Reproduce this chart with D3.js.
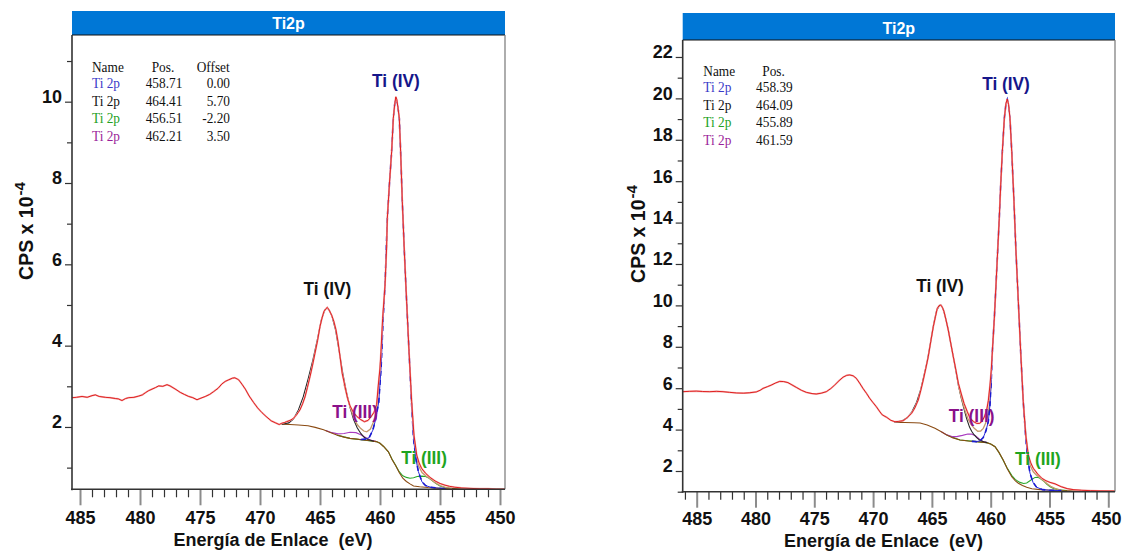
<!DOCTYPE html>
<html>
<head>
<meta charset="utf-8">
<script src="https://cdn.jsdelivr.net/npm/d3@7"></script>
<style>
  html, body { margin: 0; padding: 0; background: #fff; }
  svg { display: block; }
</style>
</head>
<body>
<svg id="chart" width="1122" height="554"></svg>
<script>
// ---------------- Data (binding energy in eV, intensity in CPS x 10^-4) ----------------

const panelTitle = "Ti2p";
const xAxisTitle = "Energía de Enlace  (eV)";
const yAxisTitle = "CPS x 10";
const yAxisExp = "-4";

const xMajorTicks = [485, 480, 475, 470, 465, 460, 455, 450];
const xMinorTicks = [486, 484, 483, 482, 481, 479, 478, 477, 476, 474, 473, 472, 471, 469, 468, 467, 466,
                     464, 463, 462, 461, 459, 458, 457, 456, 454, 453, 452, 451];
const yMajorA = [2, 4, 6, 8, 10];
const yMinorA = [1, 3, 5, 7, 9, 11];
const yMajorB = [2, 4, 6, 8, 10, 12, 14, 16, 18, 20, 22];
const yMinorB = [1, 3, 5, 7, 9, 11, 13, 15, 17, 19, 21];

const legendNames = ["Ti 2p", "Ti 2p", "Ti 2p", "Ti 2p"];
const legendPosA = ["458.71", "464.41", "456.51", "462.21"];
const legendOffsetA = ["0.00", "5.70", "-2.20", "3.50"];
const legendPosB = ["458.39", "464.09", "455.89", "461.59"];

const peakLabelText = ["Ti (IV)", "Ti (IV)", "Ti (III)", "Ti (III)"];
const peakLabelAtA = [[458.67, 10.36], [464.38, 5.25], [462.08, 2.22], [456.33, 1.09]];
const peakLabelAtB = [[458.70, 20.41], [464.31, 10.66], [461.62, 4.38], [455.98, 2.29]];

// Panel A: measured spectrum
const spectrumA = [
  [485.67,2.72],[485.3,2.73],[484.83,2.75],[484.4,2.73],[484.0,2.77],[483.72,2.79],[483.4,2.75],
  [482.89,2.73],[482.5,2.72],[482.06,2.70],[481.8,2.69],[481.5,2.65],[481.2,2.70],[480.94,2.72],
  [480.5,2.73],[480.11,2.76],[479.8,2.79],[479.56,2.84],[479.3,2.89],[479.0,2.93],[478.7,2.97],
  [478.44,3.01],[478.1,3.00],[477.75,3.04],[477.5,3.01],[477.33,2.98],[477.0,2.92],[476.64,2.85],
  [476.3,2.80],[475.94,2.75],[475.6,2.72],[475.25,2.67],[475.0,2.70],[474.56,2.75],[474.2,2.80],
  [473.86,2.87],[473.5,2.95],[473.17,3.06],[472.9,3.12],[472.61,3.16],[472.3,3.20],[472.11,3.21],
  [471.9,3.18],[471.78,3.16],[471.5,3.05],[471.22,2.93],[470.9,2.76],[470.53,2.60],[470.2,2.47],
  [469.83,2.35],[469.5,2.26],[469.06,2.15],[468.7,2.10],[468.4,2.06],[468.19,2.09],[467.95,2.11],
  [467.78,2.13],[467.5,2.16],[467.22,2.21],[466.95,2.30],[466.67,2.42],[466.45,2.57],[466.25,2.74],
  [466.05,2.97],[465.83,3.24],[465.62,3.52],[465.42,3.81],[465.2,4.13],[465.0,4.47],[464.83,4.68],
  [464.67,4.84],[464.5,4.91],[464.39,4.94],[464.25,4.88],[464.03,4.75],[463.85,4.60],[463.67,4.39],
  [463.5,4.10],[463.33,3.73],[463.15,3.32],[462.92,3.00],[462.7,2.70],[462.5,2.52],[462.22,2.36],
  [461.94,2.26],[461.6,2.18],[461.3,2.13],[461.0,2.16],[460.75,2.25],[460.5,2.36],[460.28,2.55],
  [460.14,3.03],[460.0,3.45],[459.92,3.85],[459.78,4.67],[459.58,5.49],[459.45,6.40],[459.39,7.13],
  [459.22,7.95],[459.03,8.77],[458.89,9.59],[458.78,9.92],[458.68,10.12],[458.6,10.05],[458.5,9.85],
  [458.39,9.59],[458.28,8.77],[458.14,7.54],[457.97,6.31],[457.78,5.08],[457.58,3.85],[457.36,2.62],
  [457.17,1.80],[456.94,1.31],[456.75,1.12],[456.53,0.98],[456.2,0.86],[455.83,0.76],[455.4,0.67],
  [455.0,0.61],[454.6,0.57],[454.2,0.54],[453.8,0.52],[453.2,0.50],[452.5,0.49],[451.67,0.48],
  [451.0,0.48],[450.3,0.47],[449.6,0.47]
];
const backgroundA = [
  [468.2,2.07],[467.5,2.06],[466.8,2.05],[466.0,2.03],[465.4,1.99],[464.7,1.93],[464.2,1.87],
  [463.6,1.80],[463.0,1.75],[462.5,1.72],[461.9,1.70],[461.4,1.68],[460.8,1.66],[460.3,1.64],
  [460.0,1.60],[459.7,1.52],[459.3,1.39],[459.0,1.20],[458.7,1.05],[458.4,0.88],[458.1,0.74],
  [457.8,0.66],[457.5,0.60],[457.2,0.55],[456.7,0.53],[456.0,0.51],[455.0,0.49],[453.5,0.48],
  [452.0,0.48],[450.0,0.47],[449.6,0.47]
];
const tiIV32A = [
  [461.6,1.69],[461.2,1.70],[460.9,1.74],[460.6,1.92],[460.35,2.20],[460.1,2.62],[459.9,3.50],
  [459.75,4.60],[459.58,5.49],[459.39,7.13],[459.22,7.95],[459.03,8.77],[458.89,9.59],[458.78,9.92],
  [458.68,10.10],[458.52,9.90],[458.39,9.59],[458.28,8.77],[458.14,7.54],[457.97,6.31],[457.78,5.08],
  [457.58,3.85],[457.38,2.62],[457.2,1.70],[457.0,1.20],[456.8,0.90],[456.5,0.65],[456.2,0.56],
  [455.8,0.52],[455.3,0.50],[454.5,0.48]
];
const tiIV12A = [
  [468.2,2.07],[467.6,2.10],[467.2,2.20],[466.8,2.42],[466.4,2.74],[466.0,3.17],[465.6,3.64],
  [465.2,4.18],[464.9,4.62],[464.6,4.88],[464.4,4.93],[464.2,4.86],[464.0,4.72],[463.7,4.38],
  [463.4,3.86],[463.1,3.32],[462.8,2.86],[462.5,2.48],[462.2,2.18],[461.9,1.98],[461.6,1.84],
  [461.3,1.74],[461.0,1.69],[460.5,1.65]
];
const tiIII32A = [
  [463.6,1.80],[462.5,1.72],[461.4,1.68],[460.3,1.64],
  [460.0,1.60],[459.7,1.52],[459.3,1.39],[459.0,1.21],[458.7,1.06],[458.4,0.90],[458.1,0.80],
  [457.8,0.76],[457.5,0.74],[457.2,0.75],[456.9,0.78],[456.5,0.79],[456.2,0.78],[455.9,0.74],
  [455.6,0.67],[455.3,0.60],[455.0,0.55],[454.6,0.51],[454.0,0.49],[453.0,0.48]
];
const tiIII12A = [
  [464.5,1.91],[464.0,1.86],[463.5,1.83],[463.0,1.84],[462.5,1.87],[462.0,1.86],[461.6,1.81],
  [461.2,1.74],[460.8,1.68],[460.3,1.64]
];
const envelopeA = [
  [463.0,3.05],[462.8,2.82],[462.5,2.50],[462.2,2.24],[461.9,2.06],[461.6,1.96],[461.35,1.90],
  [461.1,1.88],[460.8,1.95],[460.5,2.15],[460.25,2.52],[460.05,3.20],[459.9,3.80]
];
const envelopeTailA = [
  [457.4,2.75],[457.2,1.85],[457.0,1.32],[456.8,1.06],[456.5,0.88],[456.2,0.80],[455.8,0.72],
  [455.4,0.63],[455.0,0.56],[454.5,0.51],[454.0,0.49]
];

// Panel B: measured spectrum
const spectrumB = [
  [486.19,5.83],[485.6,5.85],[485.03,5.86],[484.5,5.84],[483.89,5.83],[483.3,5.85],[482.76,5.83],
  [482.2,5.80],[481.63,5.77],[481.0,5.76],[480.49,5.78],[479.93,5.82],[479.6,5.90],[479.36,5.99],
  [479.0,6.07],[478.66,6.15],[478.3,6.25],[477.94,6.33],[477.6,6.32],[477.24,6.27],[476.9,6.16],
  [476.53,6.04],[476.1,5.90],[475.68,5.80],[475.2,5.74],[474.83,5.72],[474.4,5.76],[473.98,5.83],
  [473.6,5.98],[473.27,6.15],[472.9,6.36],[472.56,6.53],[472.25,6.62],[471.99,6.64],[471.7,6.60],
  [471.43,6.48],[471.15,6.25],[470.86,5.99],[470.55,5.74],[470.29,5.51],[470.0,5.30],[469.73,5.11],
  [469.41,4.85],[469.22,4.71],[468.84,4.59],[468.5,4.45],[468.14,4.38],[467.8,4.40],[467.43,4.43],
  [467.1,4.58],[466.72,4.79],[466.45,5.05],[466.16,5.43],[465.95,5.88],[465.73,6.40],[465.52,6.95],
  [465.31,7.52],[465.1,8.25],[464.88,8.97],[464.7,9.45],[464.54,9.86],[464.4,9.98],[464.25,10.02],
  [464.1,9.90],[463.97,9.70],[463.8,9.30],[463.61,8.81],[463.4,8.18],[463.18,7.52],[462.95,6.85],
  [462.75,6.24],[462.5,5.72],[462.27,5.27],[462.0,4.88],[461.76,4.55],[461.45,4.38],[461.19,4.30],
  [460.95,4.30],[460.77,4.38],[460.55,4.60],[460.34,4.95],[460.2,5.40],[460.06,6.15],[459.95,6.90],
  [459.86,7.76],[459.69,9.38],[459.55,10.99],[459.41,12.59],[459.27,14.21],[459.15,15.82],
  [459.01,17.43],[458.84,19.04],[458.7,19.75],[458.59,19.97],[458.48,19.70],[458.36,19.04],
  [458.21,17.43],[458.02,15.01],[457.85,12.59],[457.65,10.18],[457.45,7.76],[457.23,5.35],
  [457.02,3.74],[456.8,2.77],[456.6,2.40],[456.38,2.13],[456.0,1.85],[455.66,1.65],[455.3,1.53],
  [454.96,1.45],[454.53,1.38],[454.0,1.24],[453.5,1.15],[453.0,1.10],[452.3,1.07],[451.5,1.05],
  [450.7,1.04],[449.43,1.03]
];
const backgroundB = [
  [468.14,4.35],[467.3,4.34],[466.5,4.33],[466.0,4.32],[465.4,4.22],[464.74,4.06],[464.2,3.90],
  [463.74,3.74],[463.2,3.60],[462.61,3.50],[461.9,3.45],[461.19,3.42],[460.34,3.37],[460.0,3.30],
  [459.63,3.17],[459.3,2.90],[458.93,2.53],[458.6,2.12],[458.21,1.72],[457.9,1.52],[457.65,1.41],
  [457.3,1.30],[456.94,1.21],[456.5,1.14],[455.8,1.10],[455.24,1.08],[454.0,1.05],[452.0,1.04],
  [449.43,1.03]
];
const tiIV32B = [
  [461.6,3.43],[461.2,3.42],[460.9,3.46],[460.63,3.62],[460.4,3.95],[460.2,4.40],[460.06,5.20],
  [459.95,6.40],[459.86,7.76],[459.69,9.38],[459.55,10.99],[459.41,12.59],[459.27,14.21],
  [459.15,15.82],[459.01,17.43],[458.84,19.04],[458.7,19.75],[458.59,19.95],[458.48,19.70],
  [458.36,19.04],[458.21,17.43],[458.02,15.01],[457.85,12.59],[457.65,10.18],[457.45,7.76],
  [457.23,5.35],[457.02,3.60],[456.85,2.60],[456.66,1.90],[456.4,1.45],[456.1,1.22],[455.6,1.10],
  [455.0,1.07],[454.0,1.05]
];
const tiIV12B = [
  [468.2,4.35],[467.6,4.40],[467.1,4.57],[466.7,4.86],[466.3,5.32],[465.95,5.94],[465.7,6.55],
  [465.4,7.30],[465.1,8.25],[464.85,9.10],[464.6,9.75],[464.35,10.00],[464.2,10.00],[464.0,9.75],
  [463.8,9.30],[463.6,8.80],[463.4,8.18],[463.18,7.52],[462.95,6.80],[462.75,6.15],[462.5,5.52],
  [462.27,5.00],[462.04,4.52],[461.8,4.12],[461.62,3.92],[461.4,3.74],[461.19,3.61],[460.95,3.50],
  [460.6,3.41],[460.3,3.37]
];
const tiIII32B = [
  [463.74,3.74],[462.61,3.50],[461.19,3.42],[460.34,3.37],
  [460.0,3.30],[459.63,3.17],[459.3,2.90],[459.0,2.58],[458.6,2.14],[458.2,1.78],[457.9,1.58],
  [457.51,1.45],[457.2,1.40],[456.94,1.42],[456.6,1.55],[456.23,1.69],[456.0,1.70],[455.81,1.65],
  [455.5,1.52],[455.24,1.37],[454.95,1.24],[454.67,1.16],[454.2,1.09],[453.5,1.06]
];
const tiIII12B = [
  [464.2,3.90],[463.8,3.76],[463.3,3.66],[462.9,3.66],[462.4,3.72],[461.95,3.79],[461.6,3.78],
  [461.3,3.70],[461.0,3.56],[460.7,3.44],[460.3,3.37]
];
const envelopeB = [
  [462.75,6.15],[462.5,5.55],[462.2,4.95],[461.95,4.55],[461.7,4.28],[461.4,4.06],[461.1,3.92],
  [460.85,3.93],[460.63,4.06],[460.4,4.35],[460.2,4.80],[460.06,5.50],[459.95,6.40]
];
const envelopeTailB = [
  [457.23,5.30],[457.0,3.70],[456.8,2.68],[456.6,2.22],[456.38,1.96],[456.1,1.80],[455.8,1.67],
  [455.5,1.53],[455.2,1.38],[454.9,1.26],[454.5,1.15],[454.0,1.08]
];

// ---------------- Drawing ----------------

const svg = d3.select("#chart");
const SANS = "'Liberation Sans', Arial, Helvetica, sans-serif";
const SERIF = "'Liberation Serif', 'Times New Roman', serif";
const PAGE_W = 1122;

const panels = [
  {
    key: "A",
    box: { l: 72, r: 505, t: 35, b: 489.3 }, barTop: 11,
    xDomain: [485.667, 449.583], yDomain: [0.467, 11.64],
    yMajor: yMajorA, yMinor: yMinorA,
    spectrum: spectrumA, background: backgroundA,
    tiIV32: tiIV32A, tiIV12: tiIV12A, tiIII32: tiIII32A, tiIII12: tiIII12A,
    envelope: [envelopeA, envelopeTailA],
    labelsAt: peakLabelAtA,
    legendPos: legendPosA, legendOffset: legendOffsetA,
    legendX: { name: 92, posHead: 151.7, posRight: 182.3, offHead: 196.7, offRight: 230 },
    legendY: [71.5, 88, 105.5, 123, 140.5],
    yTitle: { x: 33, y: 231 }, xTitleX: 273, xLabelY: 524, xTitleY: 546
  },
  {
    key: "B",
    box: { l: 682.7, r: 1115, t: 40, b: 491.7 }, barTop: 13,
    xDomain: [486.19, 449.43], yDomain: [1.0, 22.82],
    yMajor: yMajorB, yMinor: yMinorB,
    spectrum: spectrumB, background: backgroundB,
    tiIV32: tiIV32B, tiIV12: tiIV12B, tiIII32: tiIII32B, tiIII12: tiIII12B,
    envelope: [envelopeB, envelopeTailB],
    labelsAt: peakLabelAtB,
    legendPos: legendPosB, legendOffset: null,
    legendX: { name: 703.3, posHead: 762.3, posRight: 792.7 },
    legendY: [76, 92, 109.5, 127, 144.5],
    yTitle: { x: 645, y: 234 }, xTitleX: 883.5, xLabelY: 525, xTitleY: 547
  }
];

const labelColors = ["#16168a", "#111111", "#8a118a", "#1fa51f"];
const legendColors = ["#3a3ac8", "#111111", "#22a022", "#9a1e9a"];

panels.forEach(p => {
  const { l, r, t, b } = p.box;
  const x = d3.scaleLinear().domain(p.xDomain).range([l, r]);
  const y = d3.scaleLinear().domain(p.yDomain).range([b, t]);
  const line = d3.line().x(d => x(d[0])).y(d => y(d[1]));

  const g = svg.append("g").attr("class", "panel-" + p.key);

  // title bar
  g.append("rect").attr("x", l).attr("y", p.barTop).attr("width", r - l).attr("height", t - p.barTop)
    .attr("fill", "#0077d6");
  g.append("text").attr("x", (l + r) / 2).attr("y", t - 6.5)
    .attr("text-anchor", "middle").attr("fill", "#fff")
    .attr("font-family", SANS).attr("font-weight", "bold").attr("font-size", 16)
    .text(panelTitle);

  // clip for the curves
  const clipId = "clip-" + p.key;
  g.append("clipPath").attr("id", clipId)
    .append("rect").attr("x", l).attr("y", t).attr("width", r - l).attr("height", b - t);
  const plot = g.append("g").attr("clip-path", `url(#${clipId})`);

  // fitted components, then the background drawn over their shared base
  plot.append("path").datum(p.tiIII32).attr("d", line)
    .attr("fill", "none").attr("stroke", "#2aa82a").attr("stroke-width", 1.1);
  plot.append("path").datum(p.tiIII12).attr("d", line)
    .attr("fill", "none").attr("stroke", "#a93cc0").attr("stroke-width", 1.1);
  plot.append("path").datum(p.background).attr("d", line)
    .attr("fill", "none").attr("stroke", "#8a4a12").attr("stroke-width", 1.1);
  plot.append("path").datum(p.tiIV12).attr("d", line)
    .attr("fill", "none").attr("stroke", "#262626").attr("stroke-width", 1.1);
  p.envelope.forEach(seg => {
    plot.append("path").datum(seg).attr("d", line)
      .attr("fill", "none").attr("stroke", "#c49a6c").attr("stroke-width", 1.3);
  });
  plot.append("path").datum(p.tiIV32).attr("d", line)
    .attr("fill", "none").attr("stroke", "#2a2ad8").attr("stroke-width", 1);
  plot.append("path").datum(p.tiIV32).attr("d", line)
    .attr("fill", "none").attr("stroke", "#1a1ad0").attr("stroke-width", 1.6)
    .attr("stroke-dasharray", "5,4");

  // measured spectrum
  plot.append("path").datum(p.spectrum).attr("d", line)
    .attr("fill", "none").attr("stroke", "#f4b0b0").attr("stroke-width", 1.8);
  plot.append("path").datum(p.spectrum).attr("d", line)
    .attr("fill", "none").attr("stroke", "#dd1010").attr("stroke-width", 0.9);

  // frame
  g.append("line").attr("x1", l).attr("x2", r).attr("y1", t).attr("y2", t)
    .attr("stroke", "#111").attr("stroke-width", 1.2);
  g.append("line").attr("x1", r).attr("x2", r).attr("y1", t).attr("y2", b)
    .attr("stroke", "#777").attr("stroke-width", 1.2);

  // y axis
  const yAx = g.append("g").attr("transform", `translate(${l},0)`)
    .call(d3.axisLeft(y).tickValues(p.yMajor).tickSize(7).tickPadding(3).tickSizeOuter(0)
      .tickFormat(d3.format("d")));
  yAx.select(".domain").remove();
  yAx.selectAll(".tick line").attr("stroke", "#333").attr("stroke-width", 1.2);
  yAx.selectAll(".tick text").attr("dy", "0.05em").attr("fill", "#111")
    .attr("font-family", SANS).attr("font-weight", "bold").attr("font-size", 18);
  const yMin = g.append("g").attr("transform", `translate(${l},0)`)
    .call(d3.axisLeft(y).tickValues(p.yMinor).tickSize(5).tickSizeOuter(0).tickFormat(""));
  yMin.select(".domain").remove();
  yMin.selectAll(".tick line").attr("stroke", "#333").attr("stroke-width", 1.2);
  g.append("line").attr("x1", l).attr("x2", l).attr("y1", t).attr("y2", b + 1)
    .attr("stroke", "#333").attr("stroke-width", 1.6);

  // x axis
  const xAx = g.append("g").attr("transform", `translate(0,${b})`)
    .call(d3.axisBottom(x).tickValues(xMajorTicks).tickSize(16).tickSizeOuter(0).tickFormat(d3.format("d")));
  xAx.select(".domain").remove();
  xAx.selectAll(".tick line").attr("stroke", "#8c8c8c").attr("stroke-width", 2);
  xAx.selectAll(".tick text").attr("y", p.xLabelY - b).attr("dy", 0).attr("fill", "#111")
    .attr("font-family", SANS).attr("font-weight", "bold").attr("font-size", 18);
  // keep the last label inside the page
  xAx.selectAll(".tick text").each(function (d) {
    const edge = x(d) + this.getComputedTextLength() / 2;
    if (edge > PAGE_W - 1) {
      d3.select(this).attr("text-anchor", "end").attr("x", PAGE_W - 1 - x(d));
    }
  });
  const xMin = g.append("g").attr("transform", `translate(0,${b})`)
    .call(d3.axisBottom(x).tickValues(xMinorTicks.filter(v => v <= p.xDomain[0] && v >= p.xDomain[1]))
      .tickSize(8).tickSizeOuter(0).tickFormat(""));
  xMin.select(".domain").remove();
  xMin.selectAll(".tick line").attr("stroke", "#333").attr("stroke-width", 1.2);
  g.append("line").attr("x1", l - 1).attr("x2", r).attr("y1", b).attr("y2", b)
    .attr("stroke", "#333").attr("stroke-width", 1.6);

  // axis titles
  g.append("text").attr("x", p.xTitleX).attr("y", p.xTitleY).attr("text-anchor", "middle")
    .style("white-space", "pre").attr("fill", "#111")
    .attr("font-family", SANS).attr("font-weight", "bold").attr("font-size", 18)
    .text(xAxisTitle);
  const yt = g.append("text").attr("transform", `translate(${p.yTitle.x},${p.yTitle.y}) rotate(-90)`)
    .attr("text-anchor", "middle").attr("fill", "#111")
    .attr("font-family", SANS).attr("font-weight", "bold").attr("font-size", 19.5);
  yt.append("tspan").text(yAxisTitle);
  yt.append("tspan").attr("font-size", 15).attr("dy", "-0.55em").attr("dx", 1).text(yAxisExp);

  // peak labels
  p.labelsAt.forEach((pt, i) => {
    g.append("text")
      .attr("transform", `translate(${x(pt[0])},${y(pt[1])}) scale(0.91,1)`)
      .attr("text-anchor", "middle").attr("fill", labelColors[i])
      .attr("font-family", SANS).attr("font-weight", "bold").attr("font-size", 19)
      .text(peakLabelText[i]);
  });

  // component table
  const leg = g.append("g");
  const cell = (tx, ty, txt, anchor, color) => {
    leg.append("text").attr("transform", `translate(${tx},${ty}) scale(0.86,1)`)
      .attr("text-anchor", anchor).attr("fill", color)
      .attr("font-family", SERIF).attr("font-size", 15.5).text(txt);
  };
  const LX = p.legendX, LY = p.legendY;
  cell(LX.name, LY[0], "Name", "start", "#111");
  cell(LX.posHead, LY[0], "Pos.", "start", "#111");
  if (p.legendOffset) cell(LX.offHead, LY[0], "Offset", "start", "#111");
  legendNames.forEach((nm, i) => {
    cell(LX.name, LY[i + 1], nm, "start", legendColors[i]);
    cell(LX.posRight, LY[i + 1], p.legendPos[i], "end", "#111");
    if (p.legendOffset) cell(LX.offRight, LY[i + 1], p.legendOffset[i], "end", "#111");
  });
});
</script>
</body>
</html>
